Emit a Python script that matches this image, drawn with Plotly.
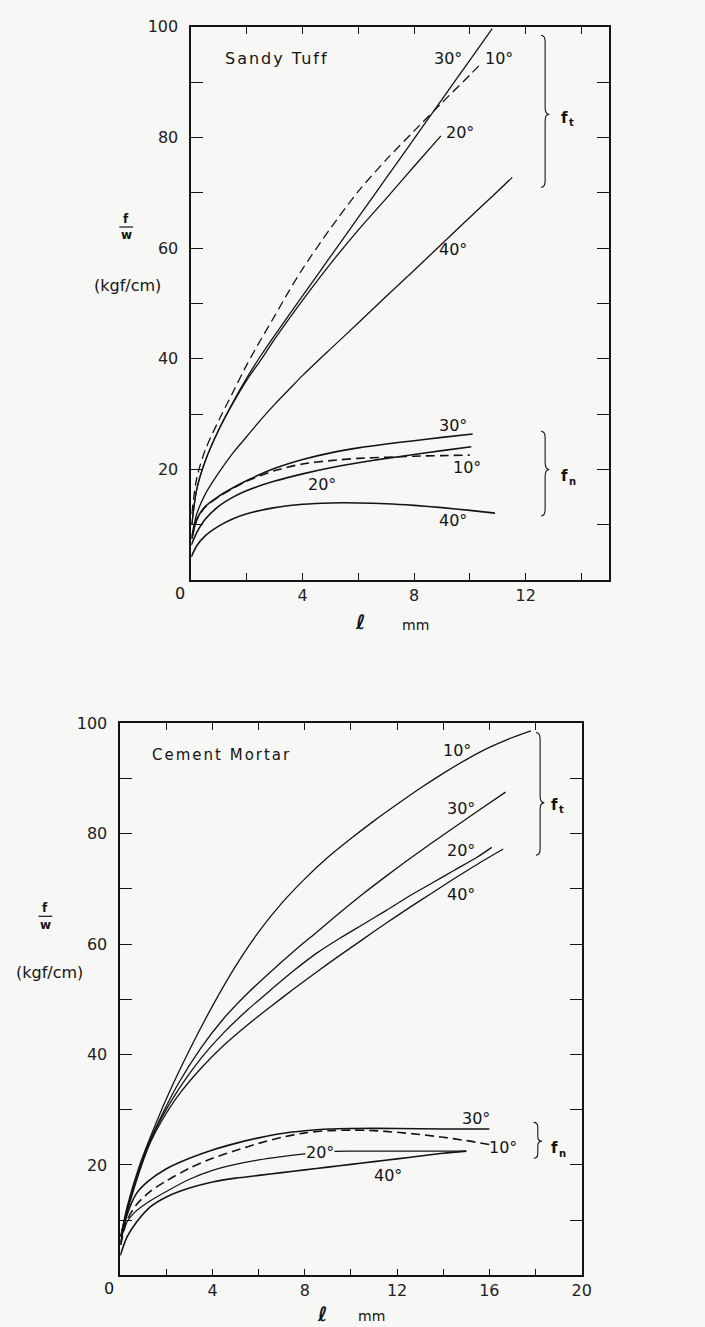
import plotly.graph_objects as go

# ---------------- data: Sandy Tuff (top panel) ----------------
st_ft10_x = [0.02, 0.2, 0.5, 1.0, 1.5, 2.0, 2.5, 3.0, 3.5, 4.0, 5.0, 6.0, 7.0, 8.0, 9.0, 10.0, 10.44]
st_ft10_y = [12, 18.5, 23.5, 29.0, 34.0, 39.0, 43.5, 47.8, 52.2, 56.3, 63.6, 70.3, 76.0, 81.2, 86.3, 91.3, 93.6]
st_ft30_x = [0.02, 0.2, 0.5, 1.0, 1.5, 2.0, 2.5, 3.0, 4.0, 5.0, 6.0, 7.0, 8.0, 9.0, 10.0, 10.8]
st_ft30_y = [10, 16.5, 21.5, 27.3, 32.2, 36.6, 40.6, 44.3, 51.4, 58.5, 65.6, 72.7, 79.8, 86.9, 94.0, 99.7]
st_ft20_x = [0.02, 0.2, 0.5, 1.0, 1.5, 2.0, 2.5, 3.0, 4.0, 5.0, 6.0, 7.0, 8.0, 8.96]
st_ft20_y = [10, 16.5, 21.5, 27.3, 32.0, 36.2, 39.8, 43.6, 50.6, 57.2, 63.3, 69.0, 74.8, 80.3]
st_ft40_x = [0.02, 0.2, 0.5, 1.0, 1.5, 2.0, 2.5, 3.0, 3.5, 4.0, 5.0, 6.0, 7.0, 8.0, 9.0, 10.0, 11.0, 11.52]
st_ft40_y = [8, 12, 15.5, 19.5, 23, 26, 29, 31.8, 34.4, 37.0, 41.8, 46.5, 51.3, 56.0, 60.8, 65.6, 70.3, 72.8]

st_fn30_x = [0.02, 0.21, 0.5, 1.0, 1.5, 2.0, 3.0, 4.0, 5.0, 6.0, 7.0, 8.0, 9.0, 10.1]
st_fn30_y = [7.5, 11.1, 13.3, 15.2, 16.7, 18.0, 20.2, 21.8, 23.0, 23.9, 24.6, 25.2, 25.8, 26.4]
st_fn10_x = [0.02, 0.21, 0.5, 1.0, 1.5, 2.0, 3.0, 4.0, 5.0, 6.0, 7.0, 8.0, 9.0, 10.0]
st_fn10_y = [7.5, 11.0, 13.2, 15.1, 16.6, 17.9, 19.8, 21.0, 21.6, 22.0, 22.2, 22.4, 22.5, 22.6]
st_fn20_x = [0.0, 0.21, 0.5, 1.0, 1.5, 2.0, 3.0, 4.0, 5.0, 6.0, 7.0, 8.0, 9.0, 10.05]
st_fn20_y = [6.3, 8.7, 11.0, 13.4, 15.0, 16.2, 17.9, 19.2, 20.3, 21.2, 22.0, 22.7, 23.4, 24.1]
st_fn40_x = [0.0, 0.21, 0.5, 1.0, 1.5, 2.0, 3.0, 4.0, 5.0, 6.0, 7.0, 8.0, 9.0, 10.0, 10.9]
st_fn40_y = [4.2, 6.3, 8.0, 9.8, 11.1, 12.0, 13.1, 13.7, 13.95, 13.95, 13.8, 13.5, 13.1, 12.6, 12.1]

# ---------------- data: Cement Mortar (bottom panel) ----------------
cm_ft10_x = [0.02, 0.3, 0.8, 1.3, 2.0, 3.0, 4.0, 5.0, 6.0, 7.0, 8.0, 9.0, 10.0, 11.0, 12.0, 13.0, 14.0, 15.0, 16.0, 17.0, 17.8]
cm_ft10_y = [7, 12.5, 19.5, 25, 32, 40.8, 48.8, 56.0, 62.2, 67.4, 71.8, 75.7, 79.1, 82.3, 85.3, 88.2, 90.9, 93.4, 95.6, 97.4, 98.6]
cm_ft30_x = [0.02, 0.3, 0.85, 1.3, 1.8, 2.5, 3.5, 4.5, 5.5, 6.5, 7.5, 8.5, 9.5, 10.5, 11.5, 12.5, 13.5, 14.5, 15.5, 16.7]
cm_ft30_y = [7, 12, 19.5, 24.5, 29, 34.6, 41.2, 46.6, 51.0, 54.9, 58.6, 62.1, 65.6, 69.0, 72.2, 75.3, 78.3, 81.2, 84.1, 87.5]
cm_ft20_x = [0.02, 0.3, 0.85, 1.3, 1.8, 2.5, 3.5, 4.5, 5.5, 6.5, 7.5, 8.5, 9.5, 10.5, 11.5, 12.5, 13.5, 14.5, 15.5, 16.1]
cm_ft20_y = [7, 12, 19.5, 24.3, 28.6, 33.5, 39.3, 44.0, 48.0, 51.6, 55.1, 58.3, 61.0, 63.5, 66.0, 68.6, 71.0, 73.4, 75.8, 77.5]
cm_ft40_x = [0.02, 0.3, 0.85, 1.3, 1.8, 2.5, 3.5, 4.5, 5.5, 6.5, 7.5, 8.5, 9.5, 10.5, 11.5, 12.5, 13.5, 14.5, 15.5, 16.6]
cm_ft40_y = [7, 11.5, 19, 24.0, 28.0, 32.5, 37.5, 41.7, 45.3, 48.6, 51.8, 54.9, 57.9, 60.8, 63.7, 66.5, 69.2, 71.9, 74.5, 77.2]

cm_fn30_x = [0.02, 0.3, 0.7, 1.2, 2.0, 3.0, 4.0, 5.0, 6.0, 7.0, 8.0, 9.0, 10.0, 12.0, 14.0, 16.0]
cm_fn30_y = [6, 11, 14.8, 17.0, 19.3, 21.2, 22.7, 23.9, 24.9, 25.7, 26.2, 26.5, 26.6, 26.6, 26.5, 26.5]
cm_fn10_x = [0.02, 0.3, 0.7, 1.3, 2.0, 3.0, 4.0, 5.0, 6.0, 7.0, 8.0, 9.0, 10.0, 11.0, 12.0, 13.0, 14.0, 15.0, 16.0]
cm_fn10_y = [5.5, 10, 12.8, 15.2, 17.1, 19.4, 21.2, 22.6, 23.9, 25.0, 25.8, 26.2, 26.3, 26.2, 25.9, 25.5, 25.0, 24.4, 23.7]
cm_fn20_x = [0.02, 0.15, 0.6, 1.3, 2.0, 3.0, 4.0, 5.0, 6.0, 7.0, 8.0, 9.0, 10.0, 12.0, 15.0]
cm_fn20_y = [5.5, 8.5, 11.3, 13.5, 15.2, 17.4, 19.0, 20.1, 20.9, 21.5, 22.0, 22.4, 22.5, 22.5, 22.5]
cm_fn40_x = [0.0, 0.3, 0.7, 1.3, 2.0, 3.0, 4.0, 5.0, 6.0, 7.0, 8.0, 9.0, 10.0, 11.0, 12.0, 13.0, 14.0, 15.0]
cm_fn40_y = [3.6, 7.0, 9.6, 12.4, 14.2, 15.8, 16.9, 17.6, 18.1, 18.6, 19.1, 19.6, 20.1, 20.6, 21.1, 21.6, 22.1, 22.5]

y_major_vals = [20, 40, 60, 80, 100]
y_minor_vals = [10, 30, 50, 70, 90]
top_x_major_vals = [4, 8, 12]
top_x_minor_vals = [2, 6, 10, 14]
bot_x_major_vals = [4, 8, 12, 16, 20]
bot_x_minor_vals = [2, 6, 10, 14, 18]

# ---------------- layout helpers ----------------
W, H = 705, 1327
BG = "#f7f7f5"
INK = "#141414"
FONT = "DejaVu Sans"


def fx(p):
    return p / W


def fy(p):
    return 1 - p / H


fig = go.Figure()


def add_curve(x, y, xa, ya, dashed=False, width=1.3):
    fig.add_trace(go.Scatter(
        x=x, y=y, mode="lines", xaxis=xa, yaxis=ya, showlegend=False,
        hoverinfo="skip",
        line=dict(color=INK, width=width, shape="spline", smoothing=0.8,
                  dash="9px,5px" if dashed else "solid")))


# top panel curves
add_curve(st_ft10_x, st_ft10_y, "x", "y", dashed=True)
add_curve(st_ft30_x, st_ft30_y, "x", "y")
add_curve(st_ft20_x, st_ft20_y, "x", "y")
add_curve(st_ft40_x, st_ft40_y, "x", "y")
add_curve(st_fn30_x, st_fn30_y, "x", "y", width=1.6)
add_curve(st_fn10_x, st_fn10_y, "x", "y", dashed=True, width=1.6)
add_curve(st_fn20_x, st_fn20_y, "x", "y", width=1.6)
add_curve(st_fn40_x, st_fn40_y, "x", "y", width=1.6)

# bottom panel curves
add_curve(cm_ft10_x, cm_ft10_y, "x2", "y2")
add_curve(cm_ft30_x, cm_ft30_y, "x2", "y2")
add_curve(cm_ft20_x, cm_ft20_y, "x2", "y2")
add_curve(cm_ft40_x, cm_ft40_y, "x2", "y2")
add_curve(cm_fn30_x, cm_fn30_y, "x2", "y2", width=1.6)
add_curve(cm_fn10_x, cm_fn10_y, "x2", "y2", dashed=True, width=1.6)
add_curve(cm_fn20_x, cm_fn20_y, "x2", "y2", width=1.2)
add_curve(cm_fn40_x, cm_fn40_y, "x2", "y2", width=1.6)

axis_common = dict(showline=True, linecolor=INK, linewidth=1.6, mirror="allticks",
                   ticks="inside", tickcolor=INK, tickwidth=1.2, showgrid=False,
                   zeroline=False, tickmode="array",
                   tickfont=dict(family=FONT, size=16, color="#222"))


def minor(vals, length):
    return dict(tickmode="array", tickvals=vals, ticks="inside", ticklen=length,
                tickcolor=INK, tickwidth=1.2, showgrid=False)


fig.update_layout(
    width=W, height=H, margin=dict(l=0, r=0, t=0, b=0),
    paper_bgcolor=BG, plot_bgcolor=BG, showlegend=False,
    font=dict(family=FONT, color=INK),
    xaxis=dict(domain=[fx(194), fx(618)], range=[0, 15], anchor="y",
               tickvals=top_x_major_vals, ticklen=7, ticklabelstandoff=0,
               minor=minor(top_x_minor_vals, 7), **axis_common),
    yaxis=dict(domain=[fy(575), fy(18)], range=[0, 100], anchor="x",
               tickvals=y_major_vals, ticklen=12, ticklabelstandoff=8,
               minor=minor(y_minor_vals, 12), **axis_common),
    xaxis2=dict(domain=[fx(122), fx(590)], range=[0, 20], anchor="y2",
                tickvals=bot_x_major_vals, ticklen=7, ticklabelstandoff=0,
                minor=minor(bot_x_minor_vals, 7), **axis_common),
    yaxis2=dict(domain=[fy(1275), fy(719)], range=[0, 100], anchor="x2",
                tickvals=y_major_vals, ticklen=12, ticklabelstandoff=8,
                minor=minor(y_minor_vals, 12), **axis_common),
)

ann = []


def data_text(text, x, y, xa, ya, size=16, xanchor="center", bg=None,
              xshift=0, yshift=0):
    d = dict(text=text, x=x, y=y, xref=xa, yref=ya, showarrow=False,
             xanchor=xanchor, yanchor="middle", xshift=xshift, yshift=yshift,
             font=dict(family=FONT, size=size, color=INK))
    if bg:
        d["bgcolor"] = bg
        d["borderpad"] = 0
    ann.append(d)


def paper_text(text, px, py, size=16, xanchor="center"):
    ann.append(dict(text=text, x=fx(px), y=fy(py), xref="paper", yref="paper",
                    showarrow=False, xanchor=xanchor, yanchor="middle",
                    font=dict(family=FONT, size=size, color=INK)))


def group_label(sub, x, y, xa, ya):
    data_text("<b>f</b>", x, y, xa, ya, size=15, xanchor="left")
    data_text("<b>" + sub + "</b>", x, y, xa, ya, size=10, xanchor="left",
              xshift=8, yshift=-5)


# titles inside the panels
data_text('<span style="letter-spacing:2px">Sandy Tuff</span>', 1.14, 94.3, "x", "y", size=16, xanchor="left")
data_text('<span style="letter-spacing:2px">Cement Mortar</span>', 1.29, 94.2, "x2", "y2", size=15, xanchor="left")

# curve labels, top
data_text("30°", 9.2, 94.3, "x", "y")
data_text("10°", 11.05, 94.3, "x", "y")
data_text("20°", 9.65, 80.9, "x", "y")
data_text("40°", 9.4, 59.7, "x", "y")
data_text("30°", 9.4, 28.0, "x", "y")
data_text("10°", 9.9, 20.3, "x", "y")
data_text("20°", 4.7, 17.3, "x", "y")
data_text("40°", 9.4, 10.7, "x", "y")
group_label("t", 13.2, 83.6, "x", "y")
group_label("n", 13.2, 18.8, "x", "y")

# curve labels, bottom
data_text("10°", 14.6, 95.0, "x2", "y2")
data_text("30°", 14.75, 84.6, "x2", "y2")
data_text("20°", 14.75, 76.9, "x2", "y2")
data_text("40°", 14.75, 69.0, "x2", "y2")
data_text("30°", 15.4, 28.4, "x2", "y2")
data_text("10°", 16.6, 23.1, "x2", "y2")
data_text("20°", 8.65, 22.3, "x2", "y2", bg=BG)
data_text("40°", 11.6, 18.0, "x2", "y2")
group_label("t", 18.6, 85.2, "x2", "y2")
group_label("n", 18.6, 23.0, "x2", "y2")

# axis labels
paper_text("0", 183, 588)
paper_text("0", 111, 1288)
paper_text("<b>ℓ</b>", 365, 617, size=20)
paper_text("mm", 421, 620, size=14)
paper_text("<b>ℓ</b>", 327, 1314, size=20)
paper_text("mm", 377, 1316, size=14)
paper_text("<b>f</b>", 128, 211, size=12)
paper_text("<b>w</b>", 128, 228, size=12)
paper_text("(kgf/cm)", 129, 278, size=16)
paper_text("<b>f</b>", 46, 905, size=12)
paper_text("<b>w</b>", 46, 922, size=12)
paper_text("(kgf/cm)", 50, 970, size=16)

fig.update_layout(annotations=ann)

shapes = []
# fraction bars
for (x0, x1, y0) in [(121, 135, 219.5), (39, 53, 913.5)]:
    shapes.append(dict(type="line", xref="paper", yref="paper",
                       x0=fx(x0), x1=fx(x1), y0=fy(y0), y1=fy(y0),
                       line=dict(color=INK, width=1.2)))


def brace(xa, ya, x0, ytop, ybot, ymid, dx, dy):
    path = (f"M {x0 - dx},{ytop} Q {x0},{ytop} {x0},{ytop - dy} "
            f"L {x0},{ymid + dy} Q {x0},{ymid} {x0 + dx},{ymid} "
            f"Q {x0},{ymid} {x0},{ymid - dy} "
            f"L {x0},{ybot + dy} Q {x0},{ybot} {x0 - dx},{ybot}")
    shapes.append(dict(type="path", xref=xa, yref=ya, path=path,
                       line=dict(color=INK, width=1.1)))


brace("x", "y", 12.7, 98.5, 71.0, 84.2, 0.15, 1.2)
brace("x", "y", 12.7, 26.9, 11.6, 20.0, 0.15, 1.2)
brace("x2", "y2", 18.2, 98.3, 76.1, 85.6, 0.18, 1.2)
brace("x2", "y2", 18.1, 27.7, 21.2, 24.3, 0.18, 0.9)

fig.update_layout(shapes=shapes)

fig.write_html("out.html")
